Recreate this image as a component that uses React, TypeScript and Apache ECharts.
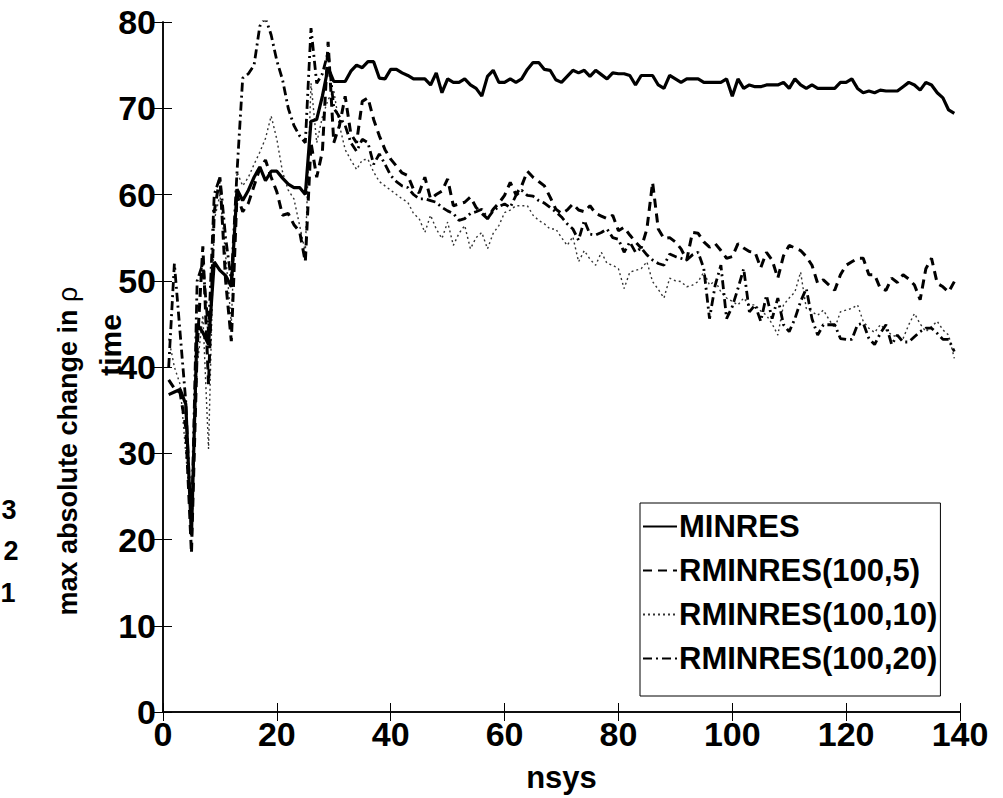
import React, { useEffect, useRef } from "react";
import * as echarts from "echarts";

// nsys index for every run (1..139)
const nsys: number[] = Array.from({ length: 139 }, (_, i) => i + 1);

const minres: number[] = [
  36.8, 37.1, 37.4, 35.7, 20.5, 45.0, 44.0, 42.6, 52.2, 51.2,
  50.6, 49.3, 60.6, 59.3, 60.5, 62.0, 63.2, 61.6, 62.7, 62.7,
  61.9, 61.2, 60.8, 60.8, 60.0, 68.5, 68.7, 71.4, 74.7, 73.1,
  73.1, 73.1, 74.3, 75.0, 74.7, 75.4, 75.4, 73.5, 73.4, 74.5,
  74.5, 74.1, 73.8, 73.4, 73.4, 73.4, 72.7, 74.1, 71.8, 73.4,
  73.0, 73.0, 73.4, 72.7, 72.3, 71.4, 73.7, 74.4, 73.0, 73.0,
  73.4, 73.0, 73.4, 74.5, 75.3, 75.3, 74.5, 74.4, 73.3, 73.0,
  73.7, 74.4, 74.1, 74.4, 73.7, 74.4, 73.9, 73.4, 74.1, 74.0,
  74.0, 73.8, 72.7, 73.8, 73.8, 73.8, 72.7, 72.3, 73.8, 73.4,
  73.0, 73.4, 73.4, 73.4, 73.0, 73.0, 73.0, 73.0, 73.4, 71.4,
  73.4, 72.3, 72.7, 72.5, 72.5, 72.7, 72.7, 72.7, 73.0, 72.3,
  73.4, 72.7, 72.3, 72.7, 72.3, 72.3, 72.3, 72.3, 73.0, 73.0,
  73.4, 72.3, 71.8, 72.0, 71.8, 72.1, 72.0, 72.0, 72.0, 72.5,
  73.0, 72.7, 72.1, 73.0, 72.7, 71.8, 71.2, 69.8, 69.4,
];

const rminres5: number[] = [
  38.5, 37.5, 37.0, 33.0, 18.4, 42.0, 54.0, 38.0, 58.0, 62.0,
  50.0, 43.0, 60.0, 58.0, 59.0, 61.0, 63.0, 64.0, 62.0, 60.3,
  57.6, 57.8, 56.5, 55.7, 52.2, 66.0, 62.0, 65.0, 77.7, 66.0,
  68.0, 71.4, 67.0, 66.0, 70.8, 71.2, 68.7, 66.8, 65.2, 64.1,
  63.3, 62.5, 62.2, 60.6, 60.2, 62.0, 59.5, 60.0, 60.4, 61.8,
  58.7, 58.9, 59.1, 59.7, 58.5, 57.8, 57.2, 58.3, 59.0, 59.9,
  61.4, 60.0, 61.0, 62.7, 62.0, 61.5, 61.0, 59.7, 58.3, 57.8,
  58.2, 58.9, 58.2, 58.0, 58.7, 57.8, 57.5, 57.2, 57.6, 55.8,
  56.2, 55.3, 54.5, 53.8, 56.0, 61.4, 56.0, 54.9, 55.0, 54.5,
  53.7, 52.4, 55.6, 55.5, 54.5, 53.9, 54.3, 53.5, 52.6, 52.8,
  54.3, 53.8, 53.4, 53.3, 51.5, 53.3, 52.4, 50.3, 52.9, 54.1,
  53.8, 53.5, 52.8, 51.8, 49.7, 50.1, 49.5, 48.9, 50.7, 51.8,
  52.2, 52.6, 52.6, 50.7, 50.7, 49.1, 48.9, 50.3, 49.8, 50.7,
  50.2, 49.5, 47.8, 51.4, 52.6, 49.7, 49.3, 48.7, 49.9,
];

const rminres10: number[] = [
  43.3, 40.0, 38.0, 30.0, 22.0, 40.0, 46.0, 30.5, 57.0, 60.0,
  53.0, 45.0, 62.6, 61.0, 62.0, 63.5, 64.9, 66.5, 69.1, 66.4,
  62.6, 60.5, 59.5, 56.4, 53.3, 72.9, 66.0, 69.0, 71.0, 72.0,
  68.0, 65.2, 64.0, 62.9, 64.0, 64.1, 62.6, 61.5, 61.0, 60.5,
  60.0, 59.5, 59.1, 57.8, 57.2, 55.6, 57.6, 56.0, 54.9, 56.8,
  54.1, 55.5, 56.4, 53.7, 55.0, 55.6, 53.7, 55.5, 56.4, 57.9,
  58.2, 58.7, 58.7, 58.7, 57.6, 57.0, 56.6, 56.0, 56.0, 55.0,
  54.1, 55.1, 52.2, 53.5, 52.5, 51.8, 53.3, 52.0, 51.8, 51.4,
  49.1, 51.0, 51.2, 51.4, 52.2, 49.9, 49.0, 48.0, 50.3, 50.0,
  49.9, 49.3, 49.5, 49.9, 51.0, 49.5, 50.0, 48.7, 48.0, 47.6,
  47.2, 48.0, 47.2, 47.2, 46.5, 46.0, 45.0, 43.7, 47.2, 48.0,
  48.7, 51.0, 46.8, 46.4, 46.0, 46.6, 45.5, 44.5, 46.4, 46.6,
  46.8, 47.2, 45.3, 44.5, 44.0, 44.9, 44.3, 43.7, 43.5, 43.3,
  44.9, 46.2, 45.0, 44.1, 44.7, 45.3, 44.3, 43.7, 41.0,
];

const rminres20: number[] = [
  40.0, 52.0, 44.0, 36.0, 21.0, 50.0, 52.0, 44.0, 60.0, 62.0,
  55.0, 50.0, 62.6, 73.5, 74.0, 75.0, 79.5, 80.5, 78.5, 75.5,
  73.3, 70.0, 68.0, 66.8, 66.0, 79.3, 72.9, 74.0, 76.5, 70.0,
  69.0, 68.0, 66.0, 65.0, 66.4, 66.0, 63.5, 64.7, 63.5, 62.2,
  61.5, 61.0, 60.8, 60.0, 59.5, 59.5, 59.3, 59.1, 58.5, 58.1,
  57.8, 57.0, 57.2, 57.8, 58.0, 58.3, 57.2, 58.1, 58.6, 58.9,
  58.5, 59.9, 60.5, 59.9, 59.8, 59.3, 59.0, 58.5, 58.0, 57.4,
  56.6, 56.0, 54.7, 57.0, 55.4, 55.3, 55.6, 56.0, 55.0, 54.8,
  53.3, 54.5, 53.3, 53.8, 53.0, 52.4, 52.0, 51.8, 53.1, 52.8,
  52.6, 52.4, 53.0, 53.3, 51.4, 45.6, 49.5, 51.8, 45.6, 47.0,
  49.1, 51.4, 46.4, 47.2, 45.3, 48.3, 45.6, 48.0, 44.9, 44.1,
  45.6, 47.6, 49.1, 45.6, 43.7, 44.9, 44.9, 44.9, 43.3, 43.2,
  43.2, 44.9, 45.1, 43.3, 42.6, 43.9, 44.9, 42.6, 43.7, 42.9,
  42.9, 43.5, 44.1, 44.5, 44.5, 43.9, 43.2, 43.2, 41.8,
];

const xTicks = { min: 0, max: 140, interval: 20 };
const yTicks = { min: 0, max: 80, interval: 10 };

const FONT = "'Liberation Sans', Arial, Helvetica, sans-serif";

const pairs = (ys: number[]) => ys.map((y, i) => [nsys[i], y]);

export default function App() {
  const ref = useRef<HTMLDivElement>(null);

  useEffect(() => {
    if (!ref.current) return;
    const chart = echarts.init(ref.current, undefined, { renderer: "svg" });

    const axisLine = { show: true, lineStyle: { color: "#000", width: 1.5 } };
    const tickIn = { show: true, inside: true, length: 9, lineStyle: { color: "#000", width: 1 } };
    const tickLabel = {
      color: "#000",
      fontFamily: FONT,
      fontWeight: "bold" as const,
      fontSize: 34,
    };

    chart.setOption({
      animation: false,
      backgroundColor: "#fff",
      grid: { left: 163, right: 43, top: 22, bottom: 82, containLabel: false },
      xAxis: [
        {
          type: "value",
          ...xTicks,
          position: "bottom",
          axisLine,
          axisTick: tickIn,
          splitLine: { show: false },
          axisLabel: { ...tickLabel, margin: 5 },
          name: "nsys",
          nameLocation: "middle",
          nameGap: 50,
          nameTextStyle: { ...tickLabel, fontSize: 31 },
        },
        {
          type: "value",
          ...xTicks,
          position: "top",
          axisLine,
          axisTick: tickIn,
          splitLine: { show: false },
          axisLabel: { show: false },
        },
      ],
      yAxis: [
        {
          type: "value",
          ...yTicks,
          position: "left",
          axisLine,
          axisTick: tickIn,
          splitLine: { show: false },
          axisLabel: { ...tickLabel, margin: 7 },
        },
        {
          type: "value",
          ...yTicks,
          position: "right",
          axisLine,
          axisTick: tickIn,
          splitLine: { show: false },
          axisLabel: { show: false },
        },
      ],
      legend: {
        orient: "vertical",
        left: 640,
        top: 503,
        backgroundColor: "#fff",
        borderColor: "#000",
        borderWidth: 1,
        padding: [8, 3, 22, 2],
        itemWidth: 34,
        itemHeight: 16,
        itemGap: 13,
        itemStyle: { opacity: 0 },
        textStyle: {
          color: "#000",
          fontFamily: FONT,
          fontWeight: "bold",
          fontSize: 31,
          padding: [0, 0, 0, -3],
        },
        data: ["MINRES", "RMINRES(100,5)", "RMINRES(100,10)", "RMINRES(100,20)"],
      },
      graphic: [
        {
          type: "text",
          x: 110,
          y: 345,
          rotation: Math.PI / 2,
          style: {
            text: "time",
            fill: "#000",
            font: `bold 30px ${FONT}`,
            align: "center",
            verticalAlign: "middle",
          },
        },
        {
          type: "text",
          x: 68,
          y: 451,
          rotation: Math.PI / 2,
          style: {
            text: "{b|max absolute change in }{r|ρ}",
            align: "center",
            verticalAlign: "middle",
            rich: {
              b: { fontFamily: FONT, fontWeight: "bold", fontSize: 27, fill: "#000", color: "#000" },
              r: { fontFamily: FONT, fontWeight: "normal", fontSize: 27, fill: "#000", color: "#000" },
            },
          },
        },
        { type: "text", x: 9, y: 510, style: { text: "3", fill: "#000", font: `bold 27px ${FONT}`, align: "center", verticalAlign: "middle" } },
        { type: "text", x: 11, y: 551, style: { text: "2", fill: "#000", font: `bold 27px ${FONT}`, align: "center", verticalAlign: "middle" } },
        { type: "text", x: 8, y: 593, style: { text: "1", fill: "#000", font: `bold 27px ${FONT}`, align: "center", verticalAlign: "middle" } },
      ],
      series: [
        {
          name: "RMINRES(100,10)",
          type: "line",
          data: pairs(rminres10),
          showSymbol: false,
          symbol: "none",
          lineStyle: { color: "#333", width: 1.4, type: [2, 3] },
          itemStyle: { color: "#333" },
          z: 2,
        },
        {
          name: "RMINRES(100,20)",
          type: "line",
          data: pairs(rminres20),
          showSymbol: false,
          symbol: "none",
          lineStyle: { color: "#000", width: 2.8, type: [9, 4, 2, 4] },
          itemStyle: { color: "#000" },
          z: 3,
        },
        {
          name: "RMINRES(100,5)",
          type: "line",
          data: pairs(rminres5),
          showSymbol: false,
          symbol: "none",
          lineStyle: { color: "#000", width: 3, type: [9, 6] },
          itemStyle: { color: "#000" },
          z: 4,
        },
        {
          name: "MINRES",
          type: "line",
          data: pairs(minres),
          showSymbol: false,
          symbol: "none",
          lineStyle: { color: "#000", width: 3.2, type: "solid" },
          itemStyle: { color: "#000" },
          z: 5,
        },
      ],
    });

    return () => chart.dispose();
  }, []);

  return (
    <div
      ref={ref}
      style={{ position: "fixed", left: 0, top: 0, width: 1003, height: 798, background: "#fff" }}
    />
  );
}
